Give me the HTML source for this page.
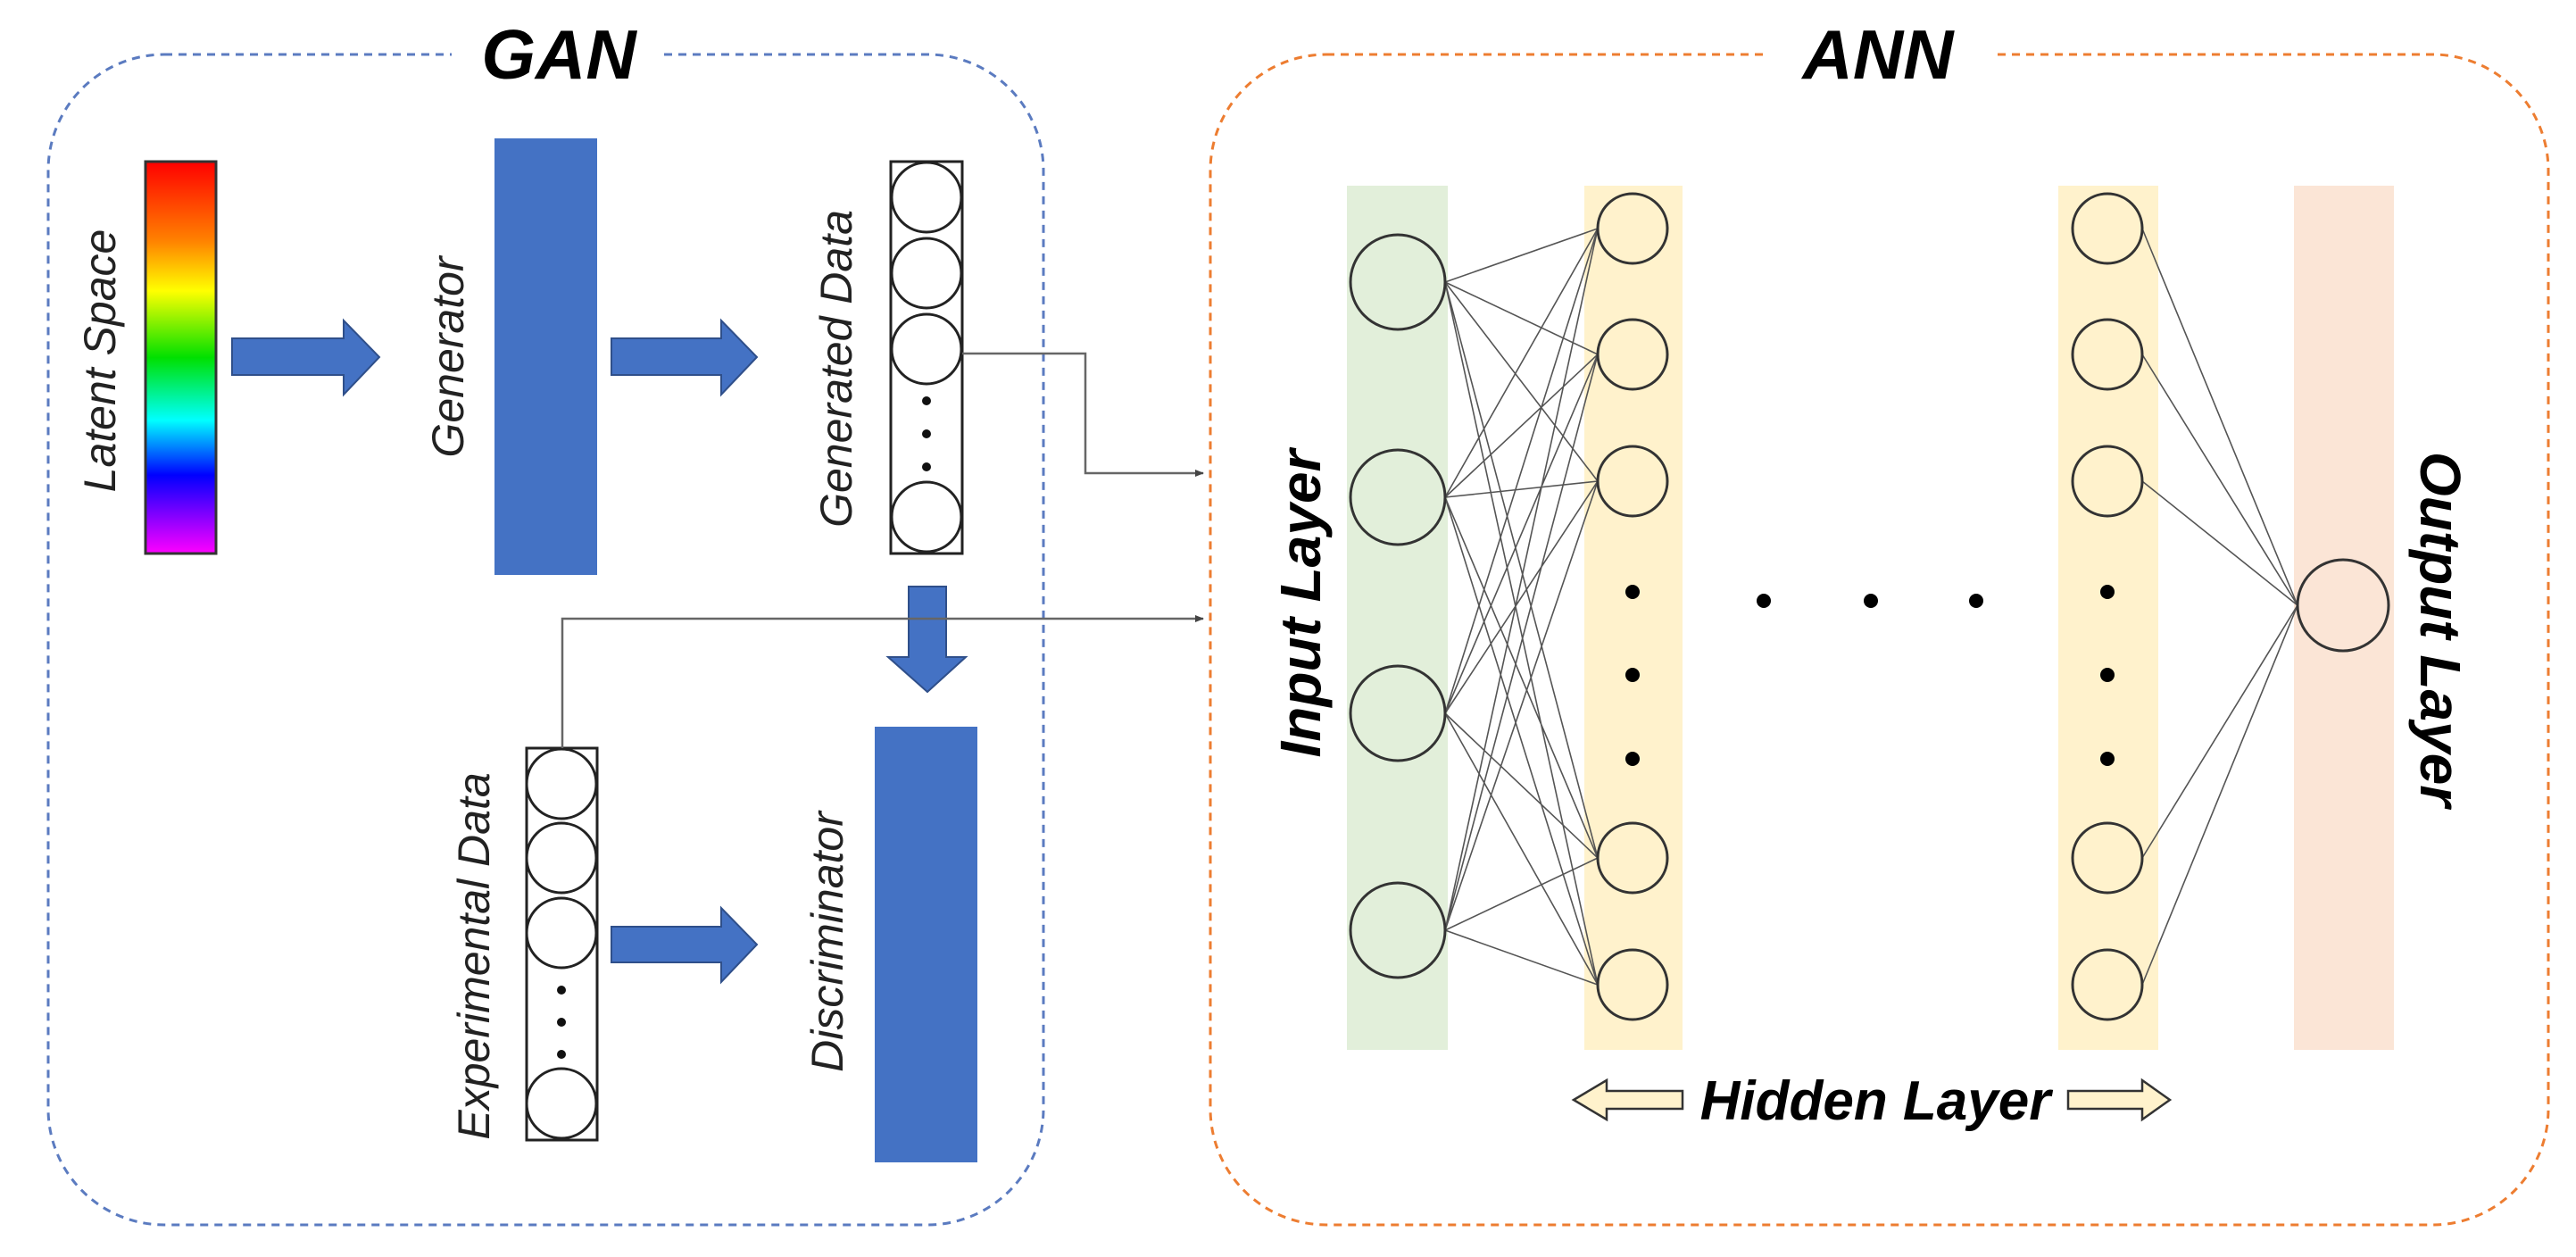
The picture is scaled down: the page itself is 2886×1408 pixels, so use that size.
<!DOCTYPE html>
<html><head><meta charset="utf-8"><style>html,body{margin:0;padding:0;background:#fff}svg{display:block}</style></head>
<body>
<svg width="2886" height="1408" viewBox="0 0 2886 1408" xmlns="http://www.w3.org/2000/svg" font-family="Liberation Sans, sans-serif">
<defs>
<linearGradient id="rb" x1="0" y1="0" x2="0" y2="1">
<stop offset="0" stop-color="#ff0000"/><stop offset="0.2" stop-color="#ff8000"/><stop offset="0.33" stop-color="#ffff00"/><stop offset="0.5" stop-color="#00e000"/><stop offset="0.66" stop-color="#00ffff"/><stop offset="0.8" stop-color="#0000ff"/><stop offset="1" stop-color="#ff00ff"/>
</linearGradient>
<marker id="ah" markerWidth="10" markerHeight="10" refX="9" refY="5" orient="auto" markerUnits="userSpaceOnUse"><path d="M0,1 L10,5 L0,9 z" fill="#444"/></marker>
</defs>
<!-- boxes -->
<rect x="54" y="61" width="1115" height="1311" rx="130" fill="none" stroke="#5b7bc0" stroke-width="3" stroke-dasharray="9,7"/>
<rect x="1356" y="61" width="1499" height="1311" rx="130" fill="none" stroke="#ed7d31" stroke-width="3" stroke-dasharray="9,7"/>
<rect x="506" y="0" width="236" height="128" fill="#fff"/>
<rect x="1980" y="0" width="255" height="128" fill="#fff"/>
<text x="626" y="88" font-size="78" font-weight="bold" font-style="italic" text-anchor="middle">GAN</text>
<text x="2104" y="88" font-size="78" font-weight="bold" font-style="italic" text-anchor="middle">ANN</text>

<!-- GAN -->
<rect x="163" y="181" width="79" height="439" fill="url(#rb)" stroke="#333" stroke-width="3"/>
<text transform="translate(112,404) rotate(-90)" font-size="50" font-style="italic" text-anchor="middle" dominant-baseline="central" fill="#222">Latent Space</text>
<g fill="#4472c4" stroke="#2f4f8a" stroke-width="2">
<path d="M260,379 H385 V359 L425,400 L385,442 V420 H260 Z"/>
<path d="M685,379 H808 V359 L848,400 L808,442 V420 H685 Z"/>
<path d="M685,1038 H808 V1017 L848,1058 L808,1100 V1078 H685 Z"/>
<path d="M1018,657 H1060 V736 H1082 L1039,775 L995,736 H1018 Z"/>
</g>
<rect x="554" y="155" width="115" height="489" fill="#4472c4"/>
<rect x="980" y="814" width="115" height="488" fill="#4472c4"/>
<text transform="translate(502,400) rotate(-90)" font-size="50" font-style="italic" text-anchor="middle" dominant-baseline="central" fill="#222">Generator</text>
<text transform="translate(937,413) rotate(-90)" font-size="50" font-style="italic" text-anchor="middle" dominant-baseline="central" fill="#222">Generated Data</text>
<text transform="translate(531,1071) rotate(-90)" font-size="50" font-style="italic" text-anchor="middle" dominant-baseline="central" fill="#222">Experimental Data</text>
<text transform="translate(927,1055) rotate(-90)" font-size="50" font-style="italic" text-anchor="middle" dominant-baseline="central" fill="#222">Discriminator</text>
<g fill="#fff" stroke="#222" stroke-width="3">
<rect x="998" y="181" width="80" height="439"/>
<circle cx="1038" cy="221" r="39"/><circle cx="1038" cy="306" r="39"/><circle cx="1038" cy="391" r="39"/><circle cx="1038" cy="579" r="39"/>
<rect x="590" y="838" width="79" height="439"/>
<circle cx="629" cy="878" r="39"/><circle cx="629" cy="961" r="39"/><circle cx="629" cy="1045" r="39"/><circle cx="629" cy="1236" r="39"/>
</g>
<g fill="#111">
<circle cx="1038" cy="449" r="5"/><circle cx="1038" cy="486" r="5"/><circle cx="1038" cy="523" r="5"/>
<circle cx="629" cy="1109" r="5"/><circle cx="629" cy="1145" r="5"/><circle cx="629" cy="1181" r="5"/>
</g>
<g fill="none" stroke="#666" stroke-width="2.5">
<path d="M1078,396 H1216 V530 H1348" marker-end="url(#ah)"/>
<path d="M630,838 V693 H1348" marker-end="url(#ah)"/>
</g>

<!-- ANN -->
<rect x="1509" y="208" width="113" height="968" fill="#e2efda"/>
<rect x="1775" y="208" width="110" height="968" fill="#fff2cc"/>
<rect x="2306" y="208" width="112" height="968" fill="#fff2cc"/>
<rect x="2570" y="208" width="112" height="968" fill="#fbe5d6"/>
<g stroke="#555" stroke-width="1.6">
<!-- input to hidden -->
<path d="M1619,316 L1790,256 M1619,316 L1790,397 M1619,316 L1790,539 M1619,316 L1790,961 M1619,316 L1790,1103
M1619,557 L1790,256 M1619,557 L1790,397 M1619,557 L1790,539 M1619,557 L1790,961 M1619,557 L1790,1103
M1619,799 L1790,256 M1619,799 L1790,397 M1619,799 L1790,539 M1619,799 L1790,961 M1619,799 L1790,1103
M1619,1042 L1790,256 M1619,1042 L1790,397 M1619,1042 L1790,539 M1619,1042 L1790,961 M1619,1042 L1790,1103
M2400,256 L2574,678 M2400,397 L2574,678 M2400,539 L2574,678 M2400,961 L2574,678 M2400,1103 L2574,678"/>
</g>
<g stroke="#333" stroke-width="3">
<g fill="#e2efda"><circle cx="1566" cy="316" r="53"/><circle cx="1566" cy="557" r="53"/><circle cx="1566" cy="799" r="53"/><circle cx="1566" cy="1042" r="53"/></g>
<g fill="#fff2cc"><circle cx="1829" cy="256" r="39"/><circle cx="1829" cy="397" r="39"/><circle cx="1829" cy="539" r="39"/><circle cx="1829" cy="961" r="39"/><circle cx="1829" cy="1103" r="39"/>
<circle cx="2361" cy="256" r="39"/><circle cx="2361" cy="397" r="39"/><circle cx="2361" cy="539" r="39"/><circle cx="2361" cy="961" r="39"/><circle cx="2361" cy="1103" r="39"/></g>
<circle cx="2625" cy="678" r="51" fill="#fbe5d6"/>
</g>
<g fill="#000">
<circle cx="1829" cy="663" r="8"/><circle cx="1829" cy="756" r="8"/><circle cx="1829" cy="850" r="8"/>
<circle cx="2361" cy="663" r="8"/><circle cx="2361" cy="756" r="8"/><circle cx="2361" cy="850" r="8"/>
<circle cx="1976" cy="673" r="8"/><circle cx="2096" cy="673" r="8"/><circle cx="2214" cy="673" r="8"/>
</g>
<text transform="translate(1457,676) rotate(-90)" font-size="64" font-weight="bold" font-style="italic" text-anchor="middle" dominant-baseline="central">Input Layer</text>
<text transform="translate(2734,705) rotate(90)" font-size="64" font-weight="bold" font-style="italic" text-anchor="middle" dominant-baseline="central">Output Layer</text>
<g fill="#fff2cc" stroke="#333" stroke-width="2.5">
<path d="M1885,1222 H1800 V1210 L1763,1232 L1800,1254 V1242 H1885 Z"/>
<path d="M2317,1222 H2400 V1210 L2431,1232 L2400,1254 V1242 H2317 Z"/>
</g>
<text x="2101" y="1254" font-size="62" font-weight="bold" font-style="italic" text-anchor="middle">Hidden Layer</text>
</svg>
</body></html>
